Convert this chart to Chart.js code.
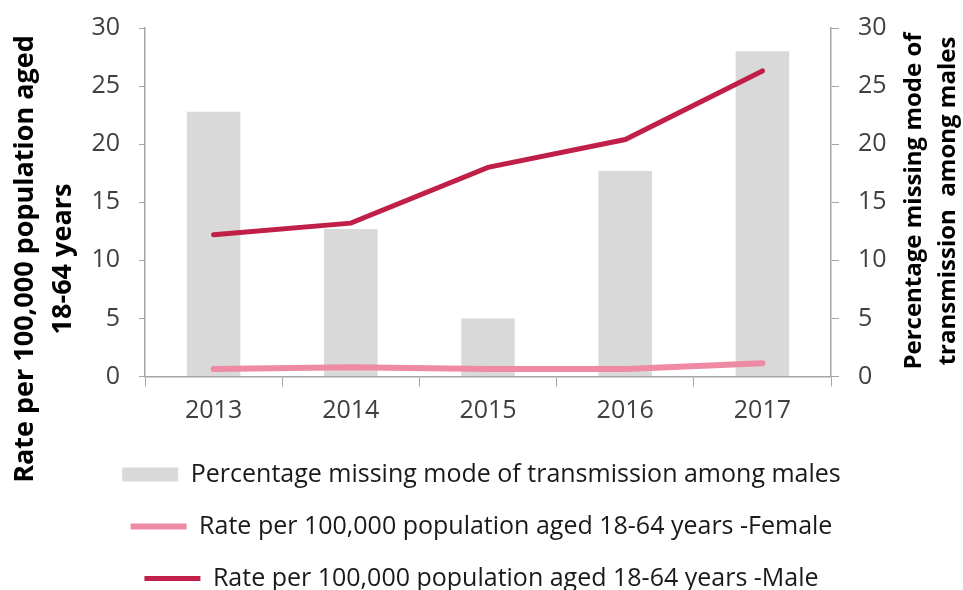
<!DOCTYPE html>
<html>
<head>
<meta charset="utf-8">
<script src="https://cdn.jsdelivr.net/npm/chart.js@4"></script>
<style>
  html, body { margin: 0; padding: 0; background: #fff; overflow: hidden; }
</style>
</head>
<body>
<!-- canvas a little taller than the window: the last legend row is cut at the bottom edge like in the original -->
<canvas id="chart" width="963" height="601"></canvas>
<script>
const years = ["2013", "2014", "2015", "2016", "2017"];
const pctMissingMales = [22.8, 12.7, 5.0, 17.7, 28.0];
const rateFemale = [0.65, 0.8, 0.65, 0.65, 1.15];
const rateMale = [12.2, 13.2, 18.0, 20.4, 26.3];
const yTicks = [0, 5, 10, 15, 20, 25, 30];

const leftTitle = ["Rate per 100,000 population aged", "18-64 years"];
const rightTitle = ["Percentage missing mode of", "transmission  among males"];

const FONT = '"Open Sans", "Liberation Sans", sans-serif';
const axisColor = "#a6a6a6";

// axis titles drawn by hand: Excel puts the left one lower than the axis middle
// and both read bottom-to-top
function drawRotated(ctx, lines, x, y, step) {
  lines.forEach((line, i) => {
    ctx.save();
    ctx.translate(x + i * step, y);
    ctx.rotate(-Math.PI / 2);
    ctx.fillText(line, 0, 0);
    ctx.restore();
  });
}

const axisTitles = {
  id: "axisTitles",
  afterDraw(chart) {
    const ctx = chart.ctx;
    ctx.save();
    ctx.fillStyle = "#000";
    ctx.textAlign = "center";
    ctx.textBaseline = "middle";
    ctx.font = "bold 27px " + FONT;
    drawRotated(ctx, leftTitle, 25, 259, 38);
    ctx.font = "bold 24px " + FONT;
    drawRotated(ctx, rightTitle, 914, 201, 34);
    ctx.restore();
  },
};

const tickOpts = {
  color: "#404040",
  font: { family: FONT, size: 25 },
};

// fixed axis widths, and no extra room above the top tick (layout padding handles it)
function fitY(width) {
  return (s) => {
    s.width = width;
    s.paddingTop = 0;
    s.paddingBottom = 0;
  };
}

new Chart(document.getElementById("chart"), {
  type: "bar",
  data: {
    labels: years,
    datasets: [
      {
        type: "bar",
        label: "Percentage missing mode of transmission among males",
        data: pctMissingMales,
        backgroundColor: "#d9d9d9",
        yAxisID: "y1",
        categoryPercentage: 1,
        barPercentage: 0.39,
        pointStyle: "rect",
        order: 1,
      },
      {
        type: "line",
        label: "Rate per 100,000 population aged 18-64 years -Female",
        data: rateFemale,
        borderColor: "#ee8aa4",
        backgroundColor: "#ee8aa4",
        borderWidth: 6,
        borderCapStyle: "round",
        pointRadius: 0,
        pointStyle: "line",
        tension: 0,
        yAxisID: "y",
        order: 0,
      },
      {
        type: "line",
        label: "Rate per 100,000 population aged 18-64 years -Male",
        data: rateMale,
        borderColor: "#c01f48",
        backgroundColor: "#c01f48",
        borderWidth: 5,
        borderCapStyle: "round",
        pointRadius: 0,
        pointStyle: "line",
        tension: 0,
        yAxisID: "y",
        order: 0,
      },
    ],
  },
  options: {
    responsive: false,
    animation: false,
    layout: { padding: { top: 28, bottom: 0, left: 0, right: 0 } },
    plugins: {
      tooltip: { enabled: false },
      legend: {
        position: "bottom",
        labels: {
          usePointStyle: true,
          pointStyleWidth: 56,
          boxHeight: 14,
          padding: 27,
          color: "#1a1a1a",
          font: { family: FONT, size: 25 },
          sort: (a, b) => a.datasetIndex - b.datasetIndex,
        },
      },
    },
    scales: {
      x: {
        offset: true,
        grid: { offset: true, drawOnChartArea: false, color: axisColor, tickLength: 10 },
        border: { color: axisColor, width: 1.5 },
        ticks: { ...tickOpts, padding: 9 },
        afterFit: (s) => { s.height = 58.5; },
      },
      y: {
        position: "left",
        min: 0,
        max: 30,
        afterBuildTicks: (s) => { s.ticks = yTicks.map((v) => ({ value: v })); },
        grid: { drawOnChartArea: false, color: axisColor, tickLength: 6 },
        border: { color: axisColor, width: 1.5 },
        ticks: { ...tickOpts, padding: 19 },
        afterFit: fitY(145),
      },
      y1: {
        position: "right",
        min: 0,
        max: 30,
        afterBuildTicks: (s) => { s.ticks = yTicks.map((v) => ({ value: v })); },
        grid: { drawOnChartArea: false, color: axisColor, tickLength: 8 },
        border: { color: axisColor, width: 1.5 },
        ticks: { ...tickOpts, padding: 19 },
        afterFit: fitY(132),
      },
    },
  },
  plugins: [axisTitles],
});
</script>
</body>
</html>
